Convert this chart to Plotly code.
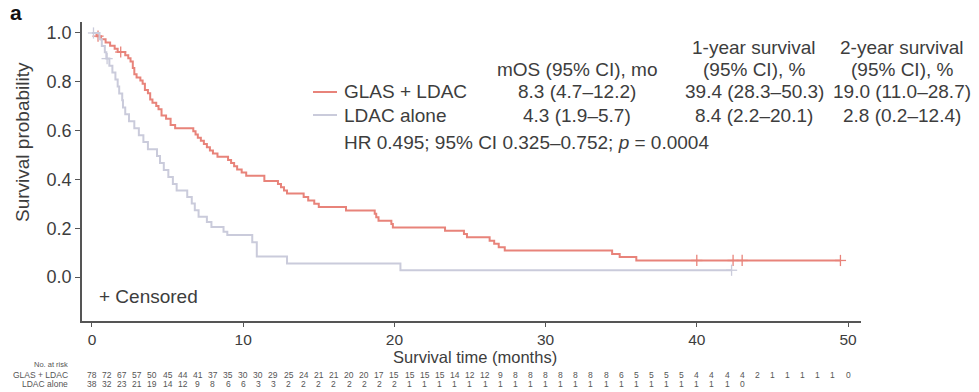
import plotly.graph_objects as go

# Kaplan-Meier step data: event times (months) and survival after each drop
glas_t = [0, 0.3, 0.6, 0.9, 1.2, 1.5, 1.7, 2.2, 2.4, 2.55, 2.7, 2.8, 2.95, 3.2, 3.35, 3.5, 3.7,
          3.85, 4.0, 4.25, 4.4, 4.6, 4.9, 5.2, 5.5, 6.7, 6.85, 7.0, 7.2, 7.4, 7.6, 7.8, 8.0, 8.3,
          9.0, 9.2, 9.4, 9.6, 9.9, 10.2, 11.4, 12.3, 12.5, 12.7, 12.9, 14.0, 14.3, 14.7, 15.0,
          16.8, 18.7, 18.8, 18.95, 19.8, 19.9, 23.35, 24.6, 24.8, 26.3, 26.6, 26.9, 27.3, 34.4,
          34.9, 36.0]
glas_s = [1.0, 0.987, 0.974, 0.961, 0.948, 0.935, 0.922, 0.909, 0.896, 0.883, 0.857, 0.831, 0.818,
          0.805, 0.792, 0.766, 0.753, 0.727, 0.714, 0.701, 0.688, 0.662, 0.649, 0.623, 0.610, 0.597,
          0.584, 0.571, 0.558, 0.545, 0.532, 0.519, 0.506, 0.493, 0.480, 0.467, 0.454, 0.441, 0.428,
          0.415, 0.394, 0.381, 0.368, 0.355, 0.342, 0.328, 0.314, 0.300, 0.287, 0.273, 0.259, 0.245,
          0.231, 0.217, 0.203, 0.190, 0.176, 0.163, 0.149, 0.136, 0.122, 0.109, 0.095, 0.082, 0.068]
glas_last = 49.5
glas_censored = [0.4, 1.9, 40.0, 42.4, 43.0, 49.5]

ldac_t = [0, 0.5, 0.65, 0.85, 0.95, 1.15, 1.35, 1.55, 1.7, 1.8, 2.0, 2.05, 2.2, 2.45, 2.8, 3.1,
          3.4, 3.7, 4.3, 4.5, 4.75, 5.05, 5.35, 5.6, 6.3, 6.6, 6.8, 7.05, 7.6, 7.9, 8.7, 8.95, 10.6,
          10.9, 12.9, 20.4]
ldac_s = [1.0, 0.974, 0.947, 0.921, 0.895, 0.866, 0.838, 0.809, 0.781, 0.752, 0.724, 0.695, 0.667,
          0.638, 0.610, 0.581, 0.553, 0.524, 0.496, 0.467, 0.439, 0.410, 0.381, 0.355, 0.328, 0.301,
          0.274, 0.247, 0.226, 0.205, 0.186, 0.172, 0.143, 0.084, 0.056, 0.028]
ldac_last = 42.3
ldac_censored = [0.1, 1.0, 42.3]

# Numbers at risk, one per month
risk_months = list(range(51))
glas_at_risk = [78, 72, 67, 57, 50, 45, 44, 41, 37, 35, 30, 30, 29, 25, 24, 21, 21, 20, 20, 17,
                15, 15, 15, 15, 14, 12, 12, 9, 8, 8, 8, 8, 8, 8, 8, 6, 5, 5, 5, 5,
                4, 4, 4, 4, 2, 1, 1, 1, 1, 1, 0]
ldac_at_risk = [38, 32, 23, 21, 19, 14, 12, 9, 8, 6, 6, 3, 3, 2, 2, 2, 2, 2, 2, 2,
                2, 1, 1, 1, 1, 1, 1, 1, 1, 1, 1, 1, 1, 1, 1, 1, 1, 1, 1, 1,
                1, 1, 1, 0]

x_ticks = [0, 10, 20, 30, 40, 50]
y_ticks = [0.0, 0.2, 0.4, 0.6, 0.8, 1.0]

table_header_1 = ["", "1-year survival", "2-year survival"]
table_header_2 = ["mOS (95% CI), mo", "(95% CI), %", "(95% CI), %"]
arm_names = ["GLAS + LDAC", "LDAC alone"]
arm_rows = [["8.3 (4.7\u201312.2)", "39.4 (28.3\u201350.3)", "19.0 (11.0\u201328.7)"],
            ["4.3 (1.9\u20135.7)", "8.4 (2.2\u201320.1)", "2.8 (0.2\u201312.4)"]]

RED = "#E8837A"
GREY = "#CACBDB"
INK = "#3d3d3d"
FONT = "Liberation Sans, Arial, sans-serif"

W, H = 979, 392
L, R, T, B = 82, 118, 22, 71


def px(x):
    return (x - L) / (W - L - R)


def py(y):
    return (H - B - y) / (H - T - B)


def level_at(times, surv, t):
    s = surv[0]
    for ti, si in zip(times, surv):
        if ti <= t:
            s = si
    return s


fig = go.Figure()

for times, surv, last, cens, col in [
    (glas_t, glas_s, glas_last, glas_censored, RED),
    (ldac_t, ldac_s, ldac_last, ldac_censored, GREY),
]:
    fig.add_trace(go.Scatter(
        x=times + [last], y=surv + [surv[-1]], mode="lines",
        line=dict(color=col, width=2, shape="hv"), showlegend=False, hoverinfo="skip"))
    cens_y = [level_at(times, surv, c) for c in cens]
    for sym in ["line-ns", "line-ew"]:
        fig.add_trace(go.Scatter(
            x=cens, y=cens_y, mode="markers",
            marker=dict(symbol=sym, size=8, line=dict(color=col, width=1.3)),
            showlegend=False, hoverinfo="skip"))

ann = []


def text(x, y, s, size=19, anchor="left", color=INK, **kw):
    ann.append(dict(x=px(x), y=py(y), xref="paper", yref="paper", text=s, showarrow=False,
                    xanchor=anchor, yanchor="middle", font=dict(size=size, color=color, family=FONT),
                    **kw))


# summary table
col_centres = [577, 754, 902]
for c, h in zip(col_centres, table_header_1):
    if h:
        text(c, 47, h, anchor="center")
for c, h in zip(col_centres, table_header_2):
    text(c, 69, h, anchor="center")
for row_y, name, vals in zip([92, 115], arm_names, arm_rows):
    text(342, row_y, name)
    for c, v in zip(col_centres, vals):
        text(c, row_y, v, anchor="center")
text(342, 142, "HR 0.495; 95% CI 0.325\u20130.752; <i>p</i> = 0.0004")
text(97, 296, "+ Censored")
text(8, 12, "<b>a</b>", size=21, color="#111")

# axis titles
text(475, 356.5, "Survival time (months)", size=16.5, anchor="center", borderpad=0)
text(22, 142, "Survival probability", anchor="center", textangle=-90)

shapes = []
for row_y, col in zip([92, 115], [RED, GREY]):
    shapes.append(dict(type="line", xref="paper", yref="paper", x0=px(313), x1=px(337),
                       y0=py(row_y), y1=py(row_y), line=dict(color=col, width=2)))

# numbers at risk
text(70, 365, "No. at risk", size=7.5, anchor="right", color="#555")
for row_y, name, counts in zip([374.5, 384], arm_names, [glas_at_risk, ldac_at_risk]):
    text(70, row_y, name, size=8.5, anchor="right", color="#555")
    for m, n in zip(risk_months, counts):
        ann.append(dict(x=m, y=py(row_y), xref="x", yref="paper", text=str(n), showarrow=False,
                        xanchor="center", yanchor="middle", borderpad=0,
                        font=dict(size=8.5, color="#555", family=FONT)))

fig.update_layout(
    width=W, height=H,
    margin=dict(l=L, r=R, t=T, b=B),
    paper_bgcolor="white", plot_bgcolor="white",
    font=dict(family=FONT, color=INK),
    annotations=ann, shapes=shapes,
    xaxis=dict(range=[-0.66, 50.86], tickvals=x_ticks, showgrid=False, zeroline=False,
               showline=True, linecolor="#555", linewidth=1.5, ticks="outside", ticklen=4,
               tickcolor="#555", tickfont=dict(size=15.5, color=INK)),
    yaxis=dict(range=[-0.180, 1.045], tickvals=y_ticks, tickformat=".1f", showgrid=False,
               zeroline=False, showline=True, linecolor="#555", linewidth=1.5, ticks="outside",
               ticklen=5, tickcolor="#555", tickfont=dict(size=18, color=INK)),
)

fig.write_html("out.html")
